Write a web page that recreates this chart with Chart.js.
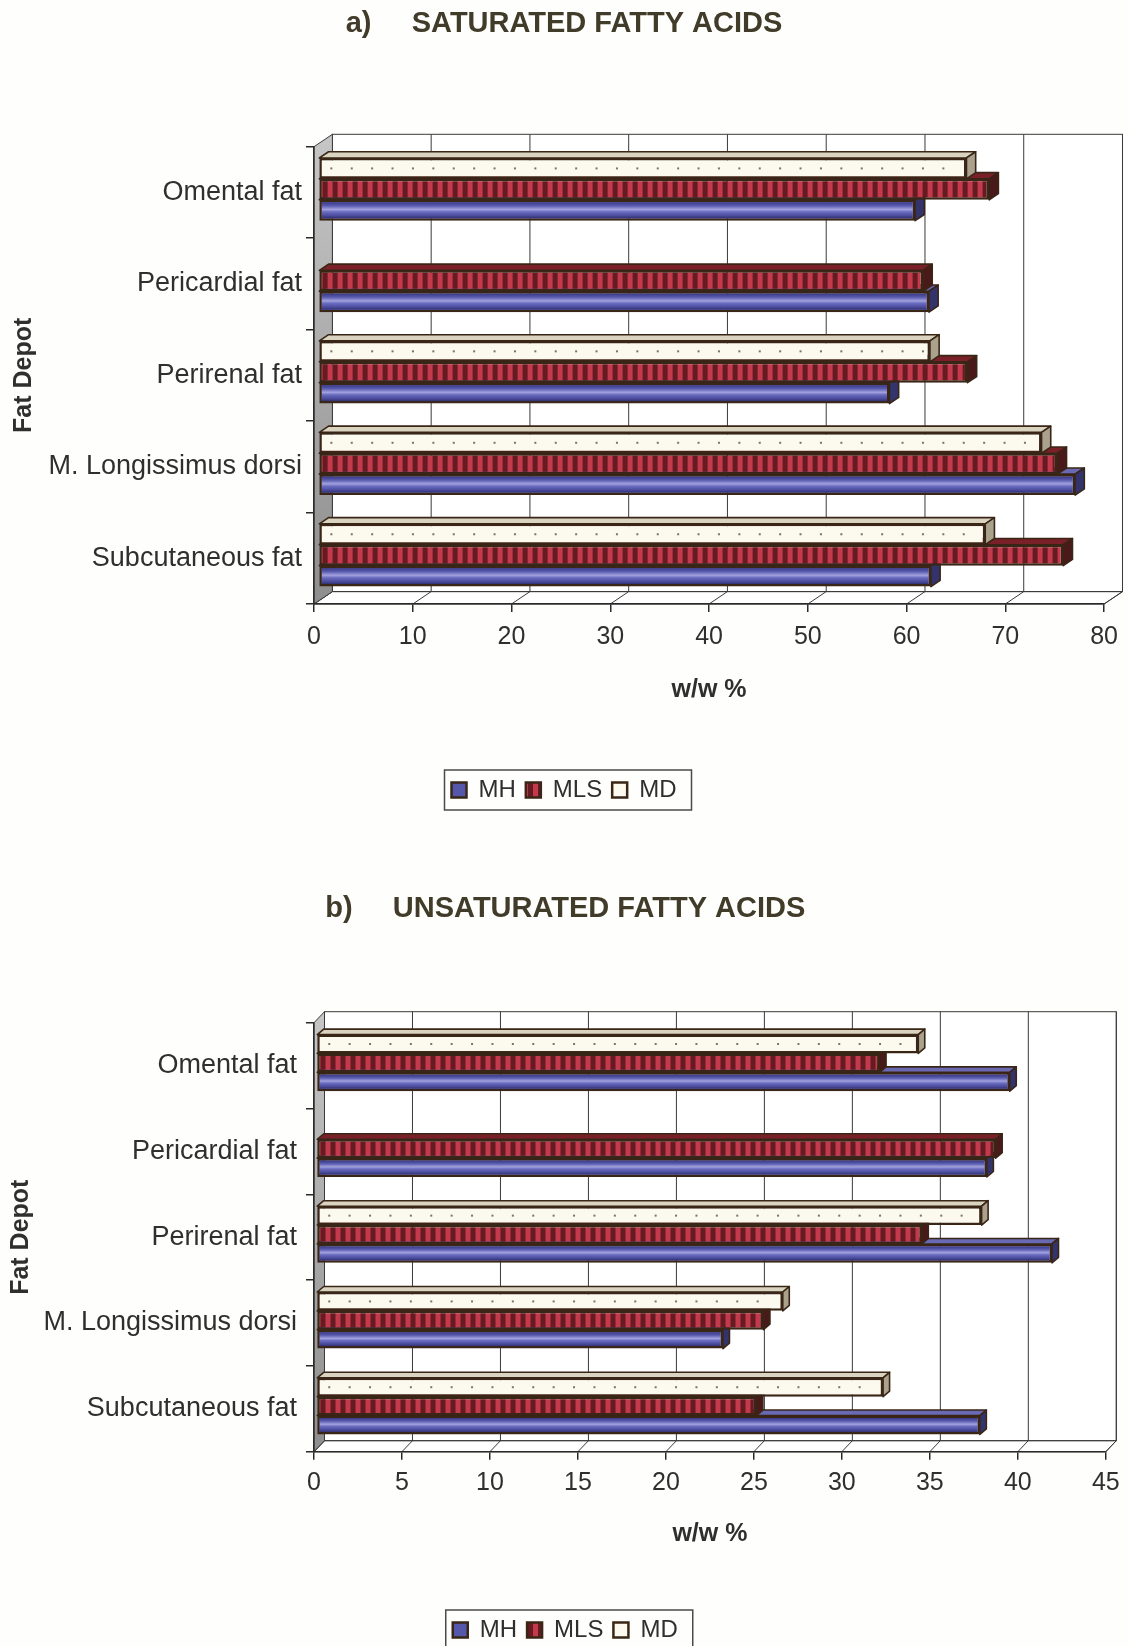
<!DOCTYPE html>
<html>
<head>
<meta charset="utf-8">
<title>Fatty acids by fat depot</title>
<script src="https://cdn.jsdelivr.net/npm/chart.js@4.4.1/dist/chart.umd.min.js"></script>
<style>
  html, body { margin: 0; padding: 0; width: 1128px; height: 1646px; overflow: hidden; background: #fefefd; }
  .panel { position: absolute; left: 0; width: 1128px; }
  #panelA { top: 0; height: 840px; }
  #panelB { top: 840px; height: 830px; }
  canvas { display: block; }
</style>
</head>
<body>
<div class="panel" id="panelA"><canvas id="chartA" width="1128" height="840"></canvas></div>
<div class="panel" id="panelB"><canvas id="chartB" width="1128" height="830"></canvas></div>
<script>
// ---- data (bottom category first, as on the axis) ----
const depots = ['Subcutaneous fat', 'M. Longissimus dorsi', 'Perirenal fat', 'Pericardial fat', 'Omental fat'];
const seriesNames = ['MH', 'MLS', 'MD'];

const saturatedMH  = [62.0, 76.6, 57.8, 61.8, 60.4];
const saturatedMLS = [75.4, 74.8, 65.7, 61.2, 67.9];
const saturatedMD  = [67.5, 73.2, 61.9, null, 65.6];

const unsaturatedMH  = [37.7, 23.1, 41.8, 38.1, 39.4];
const unsaturatedMLS = [25.0, 25.4, 34.4, 38.6, 32.0];
const unsaturatedMD  = [32.2, 26.5, 37.8, null, 34.2];

const saturatedTicks   = [0, 10, 20, 30, 40, 50, 60, 70, 80];
const unsaturatedTicks = [0, 5, 10, 15, 20, 25, 30, 35, 40, 45];

const titleA = 'a)     SATURATED FATTY ACIDS';
const titleB = 'b)     UNSATURATED FATTY ACIDS';
const valueAxisTitle = 'w/w %';
const categoryAxisTitle = 'Fat Depot';

// ---- look ----
const FONT = "'Liberation Sans', Arial, Helvetica, sans-serif";
const TEXT = '#2f2f2d';
const TITLE_COLOR = '#413b29';
const EDGE = '#3a2616';
const FRAME_LINE = '#3a3a3a';

Chart.defaults.font.family = FONT;
Chart.defaults.color = TEXT;

function stripes() {
  const c = document.createElement('canvas');
  c.width = 10; c.height = 4;
  const g = c.getContext('2d');
  g.fillStyle = '#661a22'; g.fillRect(0, 0, 10, 4);
  g.fillStyle = '#c23a4b'; g.fillRect(3, 0, 5, 4);
  return g.createPattern(c, 'repeat');
}

// indexed like seriesNames
const seriesLook = [
  { fill: '#5558aa', top: '#6a6ab4', side: '#34346c' },   // MH
  { fill: stripes(), top: '#7a2028', side: '#4a1a1a' },   // MLS
  { fill: '#fcfaee', top: '#d9d3bf', side: '#aaa28c' }    // MD
];
// top-to-bottom order of the bars inside each group
const groupOrder = [2, 1, 0];

function poly(ctx, pts) {
  ctx.beginPath();
  ctx.moveTo(pts[0][0], pts[0][1]);
  for (let i = 1; i < pts.length; i++) ctx.lineTo(pts[i][0], pts[i][1]);
  ctx.closePath();
}
function seg(ctx, x1, y1, x2, y2) {
  ctx.beginPath(); ctx.moveTo(x1, y1); ctx.lineTo(x2, y2); ctx.stroke();
}
function barBox(el) {
  const { x, y, base, height } = el.getProps(['x', 'y', 'base', 'height'], true);
  return { l: Math.min(x, base), r: Math.max(x, base), t: y - height / 2, b: y + height / 2, y };
}

// Walls, floor and bar solids drawn around the library's own bar elements.
const depthFrame = {
  id: 'depthFrame',
  beforeDraw(chart, _args, o) {
    const { ctx, chartArea: a } = chart;
    const xs = chart.scales.x;
    const [dx, dy] = o.depth;
    const L = a.left, R = a.right, T = a.top, B = a.bottom;
    ctx.save();
    ctx.lineWidth = 1;
    ctx.strokeStyle = FRAME_LINE;
    // back wall
    ctx.fillStyle = '#ffffff';
    ctx.fillRect(L + dx, T - dy, R - L, B - T);
    // floor
    poly(ctx, [[L, B], [R, B], [R + dx, B - dy], [L + dx, B - dy]]);
    ctx.fillStyle = '#ffffff'; ctx.fill(); ctx.stroke();
    // gridlines on the back wall and across the floor
    xs.ticks.forEach(t => {
      const px = xs.getPixelForValue(t.value);
      seg(ctx, px + dx, T - dy, px + dx, B - dy);
      seg(ctx, px, B, px + dx, B - dy);
    });
    ctx.strokeRect(L + dx, T - dy, R - L, B - T);
    // left wall
    const g = ctx.createLinearGradient(0, T - dy, 0, B);
    g.addColorStop(0, '#c6c6c6');
    g.addColorStop(1, '#8e8e8e');
    poly(ctx, [[L, T], [L + dx, T - dy], [L + dx, B - dy], [L, B]]);
    ctx.fillStyle = g; ctx.fill(); ctx.stroke();
    ctx.restore();
  },
  beforeDatasetsDraw(chart, _args, o) {
    const ctx = chart.ctx;
    ctx.save();
    ctx.translate(o.shift[0], -o.shift[1]);
    const [bx, by] = o.barDepth;
    // lowest bar of each group first, so upper bars cover its faces
    for (let i = chart.data.datasets.length - 1; i >= 0; i--) {
      const ds = chart.data.datasets[i];
      const look = seriesLook[ds.seriesKey];
      chart.getDatasetMeta(i).data.forEach((el, j) => {
        if (ds.data[j] == null) return;
        const { l, r, t, b } = barBox(el);
        ctx.lineWidth = 1.6;
        ctx.strokeStyle = EDGE;
        ctx.lineJoin = 'round';
        poly(ctx, [[l, t], [r, t], [r + bx, t - by], [l + bx, t - by]]);
        ctx.fillStyle = look.top; ctx.fill(); ctx.stroke();
        poly(ctx, [[r, t], [r + bx, t - by], [r + bx, b - by], [r, b]]);
        ctx.fillStyle = look.side; ctx.fill(); ctx.stroke();
      });
    }
  },
  afterDatasetsDraw(chart) {
    const ctx = chart.ctx;
    chart.data.datasets.forEach((ds, i) => {
      chart.getDatasetMeta(i).data.forEach((el, j) => {
        if (ds.data[j] == null) return;
        const { l, r, t, b, y } = barBox(el);
        if (ds.seriesKey === 0) {
          // rounded sheen on the MH rods
          const g = ctx.createLinearGradient(0, t + 2.5, 0, b - 2.5);
          g.addColorStop(0, '#3a3a86');
          g.addColorStop(0.22, '#5a5cb0');
          g.addColorStop(0.45, '#a2a2de');
          g.addColorStop(0.6, '#6a6cc0');
          g.addColorStop(0.85, '#4a4a9c');
          g.addColorStop(1, '#303070');
          ctx.fillStyle = g;
          ctx.fillRect(l + 2.5, t + 2.5, r - l - 5, b - t - 5);
        } else if (ds.seriesKey === 2) {
          // dotted MD fill
          ctx.fillStyle = '#7c7466';
          for (let px = l + 12; px < r - 5; px += 20.4) {
            ctx.fillRect(px - 1, y - 1, 2, 2);
          }
        }
      });
    });
    ctx.restore();
  }
};

// Outline round the legend entries.
const legendFrame = {
  id: 'legendFrame',
  afterDraw(chart) {
    const lg = chart.legend;
    if (!lg || !lg.legendHitBoxes || !lg.legendHitBoxes.length) return;
    const hb = lg.legendHitBoxes;
    const l = Math.min(...hb.map(h => h.left)) - 7;
    const r = Math.max(...hb.map(h => h.left + h.width)) + 15;
    const cy = hb[0].top + hb[0].height / 2;
    const ctx = chart.ctx;
    ctx.save();
    ctx.strokeStyle = '#4a4a4a';
    ctx.lineWidth = 1.5;
    ctx.strokeRect(l, cy - 20, r - l, 40);
    ctx.restore();
  }
};

function buildChart(id, p) {
  const datasets = groupOrder.map(k => ({
    label: seriesNames[k],
    seriesKey: k,
    data: p.series[k],
    backgroundColor: seriesLook[k].fill,
    borderColor: EDGE,
    borderWidth: 2.5,
    borderSkipped: false,
    clip: false
  }));
  return new Chart(document.getElementById(id), {
    type: 'bar',
    data: { labels: depots, datasets },
    options: {
      indexAxis: 'y',
      responsive: false,
      animation: false,
      devicePixelRatio: 1,
      datasets: { bar: { categoryPercentage: p.catPct, barPercentage: 1 } },
      layout: { padding: { left: 21, right: p.padRight, top: 0, bottom: p.padBottom } },
      plugins: {
        title: {
          display: true, text: p.title, color: TITLE_COLOR,
          font: { size: 29, weight: 'bold' },
          padding: { top: p.titleTop, bottom: p.titleBottom }
        },
        legend: {
          position: 'bottom',
          reverse: true,
          labels: { font: { size: 24 }, color: TEXT, boxWidth: 15, boxHeight: 15, padding: 10 }
        },
        tooltip: { enabled: false },
        depthFrame: { depth: p.depth, shift: p.shift, barDepth: p.barDepth }
      },
      scales: {
        x: {
          type: 'linear',
          min: p.ticks[0], max: p.ticks[p.ticks.length - 1],
          afterBuildTicks: s => { s.ticks = p.ticks.map(v => ({ value: v })); },
          ticks: { font: { size: 25 }, color: TEXT, padding: p.xTickPad, maxRotation: 0, autoSkip: false },
          grid: { drawOnChartArea: false, drawTicks: true, tickLength: 8, color: '#2a2a2a', lineWidth: 1.5 },
          border: { display: true, color: '#2a2a2a', width: 1.5 },
          title: {
            display: true, text: valueAxisTitle, color: TEXT,
            font: { size: 25, weight: 'bold' },
            padding: { top: 0, bottom: p.xTitleBottom }
          },
          afterFit: s => { s.height = p.xHeight; }
        },
        y: {
          reverse: true,
          offset: true,
          grid: { offset: true, drawOnChartArea: false, drawTicks: true, tickLength: 8, color: '#2a2a2a', lineWidth: 1.5 },
          border: { display: true, color: '#2a2a2a', width: 1.5 },
          ticks: { font: { size: 27 }, color: TEXT, padding: p.yTickPad, autoSkip: false },
          title: {
            display: true, text: categoryAxisTitle, color: TEXT,
            font: { size: 25, weight: 'bold' },
            padding: { top: p.yTitleTop, bottom: 0 }
          },
          afterFit: s => { s.width = 293; }
        }
      }
    },
    plugins: [depthFrame, legendFrame]
  });
}

buildChart('chartA', {
  title: titleA,
  series: [saturatedMH, saturatedMLS, saturatedMD],
  ticks: saturatedTicks,
  catPct: 0.686,
  padRight: 21, padBottom: 28,
  titleTop: 6.6, titleBottom: 105.3,
  xHeight: 164, xTickPad: 10, xTitleBottom: 63,
  yTickPad: 4, yTitleTop: -12,
  depth: [18.4, 12.4], shift: [4.6, 3.1], barDepth: [9.2, 6.2]
});

buildChart('chartB', {
  title: titleB,
  series: [unsaturatedMH, unsaturatedMLS, unsaturatedMD],
  ticks: unsaturatedTicks,
  catPct: 0.66,
  padRight: 18.5, padBottom: 18,
  titleTop: 51.6, titleBottom: 96.3,
  xHeight: 156.3, xTickPad: 8.3, xTitleBottom: 59,
  yTickPad: 9, yTitleTop: -15,
  depth: [10.5, 11], shift: [2.5, 2.7], barDepth: [6.5, 5.5]
});
</script>
</body>
</html>
